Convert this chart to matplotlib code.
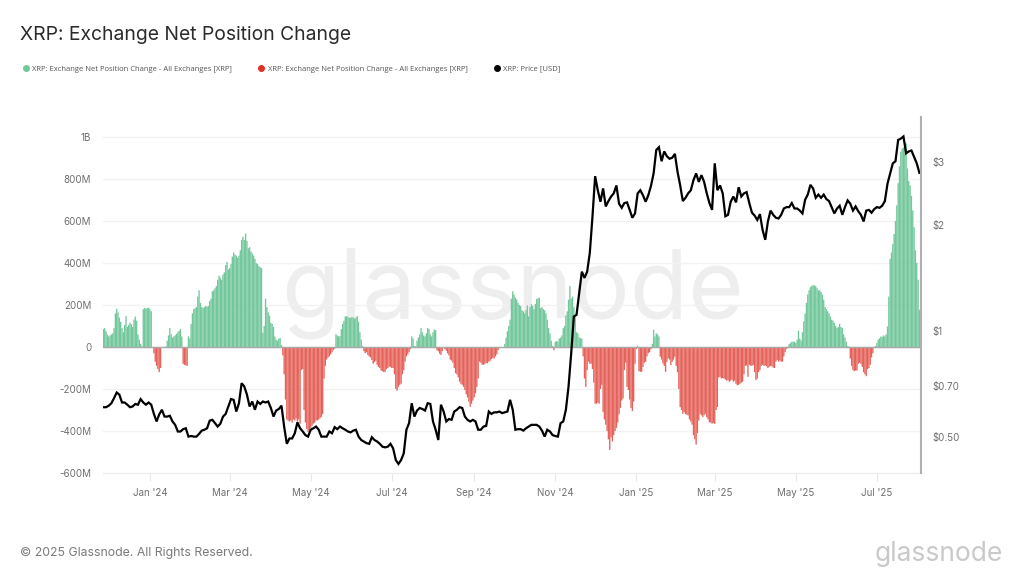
import pandas as pd
import matplotlib
matplotlib.use('Agg')
import matplotlib.pyplot as plt
from matplotlib.lines import Line2D

START = '2023-11-27'

# net position change in millions of XRP, one value per day
net_dec23_apr24 = [85, 90, 75, 60, 50, 55, 60, 65, 90, 160, 182, 165, 140, 120, 90, 70, 105, 147, 95, 105,
                   115, 108, 95, 130, 145, 125, 60, 35, 15, 3, 180, 185, 183, 185, 187, 180, 170, -5, -30, -70,
                   -90, -105, -120, -100, 0, 0, 0, 3, 30, 55, 90, 60, 45, 50, 55, 62, 70, 78, 85, 50,
                   -80, -85, -88, -90, 50, 40, 110, 160, 180, 185, 190, 240, 270, 210, 190, 185, 190, 195, 192, 195,
                   220, 230, 265, 270, 280, 290, 320, 340, 330, 320, 345, 355, 390, 405, 370, 375, 395, 430, 450, 440,
                   435, 425, 435, 460, 510, 525, 510, 540, 505, 470, 475, 455, 445, 435, 420, 400, 395, 385, 380, 375,
                   67, 100, 230, 190, 165, 150, 115, 110, 95, 50, 35, 30, 40, 42, 10]
net_apr24_aug24 = [-40, -130, -250, -345, -350, -355, -350, -360, -345, -350, -340, -355, -345, -365, -110, -105,
                   -300, -360, -390, -405, -395, -385, -375, -365, -360, -350, -350, -345, -340, -333, -320, -150,
                   -90, -60, -50, -45, -35, -25, -15, -8, 60, 55, 50, 52, 85, 110, 125, 145, 147, 142,
                   140, 138, 143, 140, 135, 140, 147, 120, 70, 35, 5, -20, -30, -25, -38, -45,
                   -50, -62, -80, -72, -65, -85, -95, -100, -112, -115, -120, -118, -105, -100, -93, -95, -100, -100,
                   -130, -200, -208, -190, -180, -175, -130, -110, -70, -45, -35, -25, -10, 50, 40, 5, 3, 30, 45, 60,
                   90, 70, 55, 50, 65, 90, 85, 60, 50, 70, 83, 80]
net_aug24_jan25 = [-15, -20, -32, -38, -20, -4, -10, -18, -30, -40, -60, -65, -75, -100, -125, -130, -145, -165, -175,
                   -180, -190, -205, -225, -240, -260, -285, -270, -255, -240, -220, -190, -150, -70, -75, -85, -85,
                   -80, -75, -78, -70, -65, -58, -52, -55, -45, -35, -15, -5, 0, 0, -3, 15, 45, 75, 100, 130,
                   230, 265, 250, 235, 225, 210, 200, 195, 175, 170, 160, 175, 198, 145, 190, 203, 195, 180, 205,
                   228, 232, 235, 185, 190, 180, 175, 160, 130, 90, 65, 30, 5, -15, 25, 28, 25, 40, 45, 55,
                   90, 100, 150, 170, 225, 290, 230, 240, 190, 150, 70, 65, 45, 42, 40, -45, -150, -190, -110,
                   -70, -80, -80, -105, -170, -270, -270, -265, -270, -200, -180, -310, -345, -370, -400, -440, -490,
                   -430, -450, -420, -400, -385, -360, -320, -290, -255, -245, -110, -75, -190, -205, -250, -290,
                   -305, -260, -80, -10, 5, -115]
net_jan25_apr25 = [-118, -118, -95, -75, -70, -45, -30, -25, -10, 15, 82, 50, 65, 60, 50, -46, -60, -78, -90, -118, -70,
                   -54, -60, -86, -70, -60, -46, -90, -120, -200, -286, -300, -318, -310, -320, -322, -326, -345,
                   -355, -370, -420, -440, -465, -410, -350, -318, -325, -334, -325, -318, -335, -345, -358, -360,
                   -365, -362, -366, -300, -286, -145, -142, -150, -148, -150, -155, -160, -158, -166, -160, -155,
                   -165, -160, -175, -182, -180, -175, -170, -165, -130, -90, -88, -142, -85, -88, -90, -85, -120,
                   -158, -150, -120, -110, -90, -85, -90, -88, -92, -100, -95, -90, -92, -98, -100, -70, -62, -70,
                   -65, -70, -70, -45, -25, -10]
net_apr25_aug25 = [2, 14, 20, 25, 25, 25, 20, 35, 78, 40, 30, 70, 122, 160, 210, 250, 270, 285, 290, 295,
                   293, 290, 280, 270, 270, 262, 250, 225, 190, 180, 170, 160, 145, 130, 125, 115, 100, 90, 95, 110,
                   95, 90, 60, 45, 25, 5, 3, -55, -90, -110, -115, -112, -112, -80, -75, -80, -95, -120, -130, -139,
                   -105, -100, -85, -50, -30, -3, 5, 20, 35, 42, 50, 48, 55, 50, 60, 98, 240, 420, 450, 490,
                   538, 600, 674, 780, 860, 930, 945, 950, 960, 970, 850, 790, 770, 720, 650, 570, 460, 400, 320, 178]

# price in USD, one value every second day
price_dec23_aug24 = [.608, .608, .614, .624, .645, .669, .660, .627, .627, .618, .608, .611, .621, .618, .641, .627,
                     .618, .627, .618, .582, .554, .580, .598, .572, .572, .575, .554, .542, .519, .519, .527, .530,
                     .502, .504, .502, .502, .511, .522, .525, .530, .557, .560, .548, .536, .546, .572, .582, .611,
                     .641, .638, .591, .624, .711, .696, .660, .611, .631, .598, .631, .621, .631, .627, .631, .605,
                     .572, .595, .601, .614, .536, .479, .496, .496, .513, .551, .530, .519, .507, .502, .525, .530,
                     .536, .525, .502, .502, .502, .519, .513, .534, .527, .536, .530, .525, .519, .516, .522, .525,
                     .502, .491, .486, .481, .479]
price_aug24_nov24 = [.500, .491, .486, .479, .470, .468, .470, .479, .465, .431, .420, .431, .450, .525, .548, .624,
                     .572, .595, .605, .601, .595, .624, .621, .554, .525, .491, .618, .591, .554, .563, .560, .591,
                     .598, .608, .605, .572, .560, .554, .560, .554, .525, .525, .536, .538, .591, .582, .588, .588,
                     .591, .585, .588, .591, .638, .598, .525, .527, .527, .522, .530, .536, .542, .542, .542, .536,
                     .522, .502, .525, .519, .507, .504, .502, .548, .554, .598, .696, .865, 1.098, 1.110, 1.281,
                     1.471, 1.412, 1.471, 1.662, 2.105, 2.74]
price_nov24_apr25 = [2.50, 2.32, 2.53, 2.25, 2.33, 2.40, 2.45, 2.58, 2.29, 2.23, 2.30, 2.31, 2.20, 2.09, 2.15, 2.45,
                     2.50, 2.42, 2.32, 2.42, 2.57, 2.79, 3.25, 3.31, 3.02, 3.22, 3.12, 3.07, 3.09, 3.17, 2.82, 2.58,
                     2.33, 2.38, 2.45, 2.50, 2.67, 2.79, 2.64, 2.76, 2.64, 2.45, 2.30, 2.20, 2.98, 2.50, 2.58, 2.45,
                     2.11, 2.13, 2.32, 2.40, 2.31, 2.55, 2.40, 2.45, 2.47, 2.30, 2.16, 2.12, 2.06, 2.14, 1.93, 1.81,
                     2.04, 2.19, 2.13, 2.09, 2.08]
price_apr25_aug25 = [2.13, 2.22, 2.24, 2.24, 2.30, 2.22, 2.22, 2.19, 2.15, 2.35, 2.43, 2.59, 2.53, 2.38, 2.43, 2.38,
                     2.43, 2.36, 2.33, 2.24, 2.15, 2.22, 2.26, 2.13, 2.24, 2.34, 2.29, 2.19, 2.25, 2.18, 2.13, 2.04,
                     2.19, 2.20, 2.16, 2.21, 2.24, 2.23, 2.26, 2.33, 2.61, 2.79, 2.98, 3.02, 3.47, 3.50, 3.55, 3.18,
                     3.22, 3.24, 3.11, 2.98, 2.80]

month_ticks = ['2024-01-01', '2024-03-01', '2024-05-01', '2024-07-01', '2024-09-01', '2024-11-01',
               '2025-01-01', '2025-03-01', '2025-05-01', '2025-07-01']
month_labels = ["Jan '24", "Mar '24", "May '24", "Jul '24", "Sep '24", "Nov '24",
                "Jan '25", "Mar '25", "May '25", "Jul '25"]
net_ticks = [-600, -400, -200, 0, 200, 400, 600, 800, 1000]
net_labels = ['-600M', '-400M', '-200M', '0', '200M', '400M', '600M', '800M', '1B']
price_ticks = [0.5, 0.7, 1, 2, 3]
price_labels = ['$0.50', '$0.70', '$1', '$2', '$3']

GREEN = '#72c79b'
RED = '#e5625a'
GREY = '#6f6f6f'
LEGEND_NAME = 'XRP: Exchange Net Position Change - All Exchanges [XRP]'

net = net_dec23_apr24 + net_apr24_aug24 + net_aug24_jan25 + net_jan25_apr25 + net_apr25_aug25
price = price_dec23_aug24 + price_aug24_nov24 + price_nov24_apr25 + price_apr25_aug25
net_dates = pd.date_range(START, periods=len(net), freq='D')
price_dates = pd.date_range(START, periods=len(price), freq='2D')
pos = [max(v, 0) for v in net]
neg = [min(v, 0) for v in net]

plt.rcParams['font.family'] = ['Inter', 'DejaVu Sans']

fig = plt.figure(figsize=(10.24, 5.74), dpi=100)
ax = fig.add_axes([103/1024, 1 - 473/574, 818/1024, 356/574])
ax.set_zorder(2)

# big watermark sits behind the axes
fig.text(0.5 * (283 + 742)/1024, 1 - 317/574, 'glassnode', fontsize=68.5, color='#eeeeee', ha='center',
         va='baseline', zorder=0)
ax.patch.set_alpha(0)

for bars in [ax.bar(net_dates, pos, width=1.0, color=GREEN, linewidth=0),
             ax.bar(net_dates, neg, width=1.0, color=RED, linewidth=0)]:
    for patch in bars:
        patch.set_snap(False)
ax.axhline(0, color='#a9a9a9', linewidth=1, xmax=0.998)
ax.set_ylim(-600, 1095)
ax.set_xlim(pd.Timestamp(START) - pd.Timedelta(days=0.3), pd.Timestamp(START) + pd.Timedelta(days=615.2))
ax.set_yticks(net_ticks)
ax.set_yticklabels(net_labels)
ax.set_xticks(pd.to_datetime(month_ticks))
ax.set_xticklabels(month_labels)
ax.grid(axis='y', color='#f3f1f1', linewidth=1)
ax.set_axisbelow(True)
ax.tick_params(axis='y', length=0, pad=8.4, labelsize=7, labelcolor=GREY)
ax.tick_params(axis='x', length=6, width=0.8, color='#e8e8e8', pad=5, labelsize=7, labelcolor=GREY)
for side in ['top', 'left', 'right']:
    ax.spines[side].set_visible(False)
ax.spines['bottom'].set_color('#ececec')

ax2 = ax.twinx()
ax2.set_zorder(3)
ax2.plot(price_dates, price, color='#000000', linewidth=1.6, solid_joinstyle='miter')
ax2.set_yscale('log')
ax2.set_ylim(0.396, 4.03)
ax2.set_yticks(price_ticks)
ax2.set_yticklabels(price_labels)
ax2.minorticks_off()
ax2.tick_params(axis='y', length=0, pad=8, labelsize=7, labelcolor=GREY)
for side in ['top', 'left', 'bottom']:
    ax2.spines[side].set_visible(False)
ax2.spines['right'].set_color('#b0b0b0')
ax2.spines['right'].set_linewidth(1.5)

fig.text(20/1024, 1 - 35/574, 'XRP: Exchange Net Position Change', fontsize=13.9, color='#2b2b2b', va='center')

handles = [Line2D([], [], linestyle='', marker='o', markersize=4, color=GREEN, label=LEGEND_NAME),
           Line2D([], [], linestyle='', marker='o', markersize=4, color='#e0302a', label=LEGEND_NAME),
           Line2D([], [], linestyle='', marker='o', markersize=4, color='#000000', label='XRP: Price [USD]')]
fig.legend(handles=handles, loc='center left', bbox_to_anchor=(18/1024, 1 - 69/574), ncols=3, frameon=False,
           prop={'family': 'Open Sans', 'size': 5.5}, labelcolor='#555555', handletextpad=-0.2, columnspacing=2.9,
           borderpad=0, borderaxespad=0)

fig.text(20/1024, 1 - 553/574, '© 2025 Glassnode. All Rights Reserved.', fontsize=8.8, color='#7a7a7a', va='center')
fig.text(1003/1024, 1 - 561/574, 'glassnode', fontsize=19, color='#c9c9c9', ha='right', va='baseline')

fig.savefig('out.png', dpi=100)
